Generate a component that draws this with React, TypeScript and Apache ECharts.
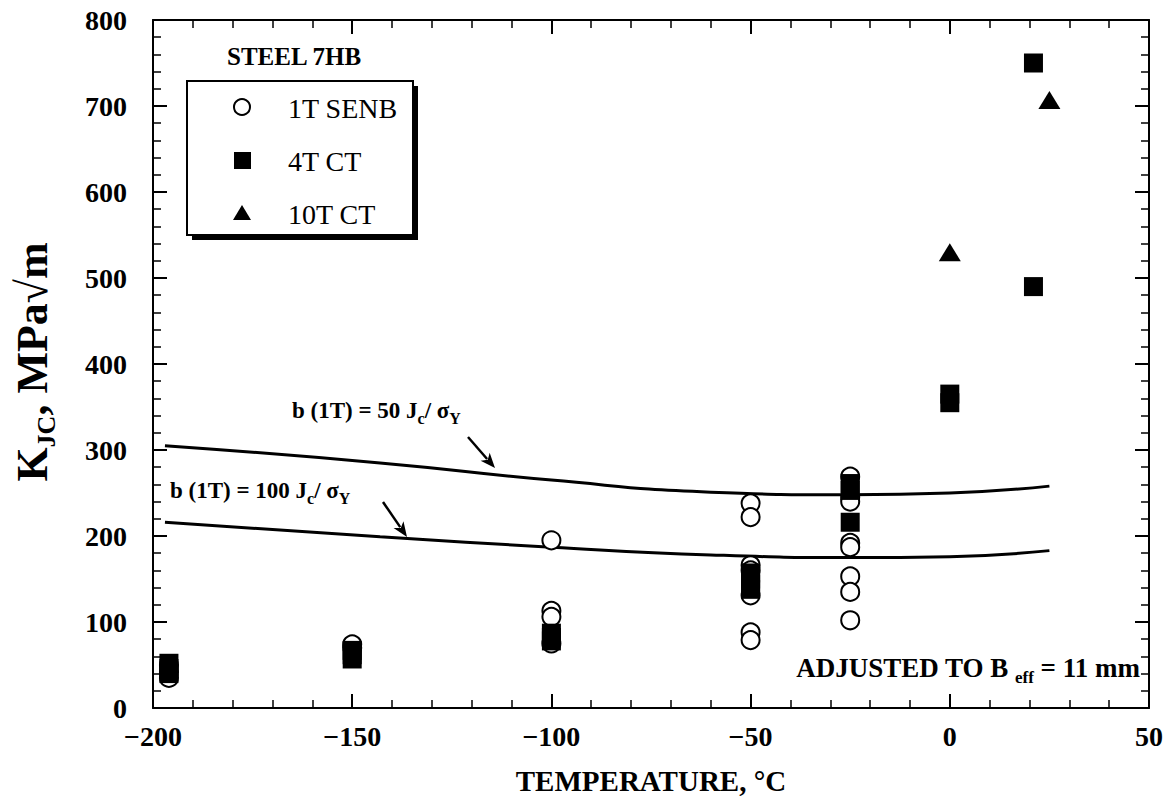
import React, { useEffect, useRef } from "react";
import * as echarts from "echarts";

// ---- data ----
const xTicks = { min: -200, max: 50, interval: 50 };
const yTicks = { min: 0, max: 800, interval: 100 };

const senbPoints: [number, number][] = [
  [-196, 35], [-196, 42], [-196, 50],
  [-150, 70], [-150, 74],
  [-100, 195], [-100, 113], [-100, 106], [-100, 75],
  [-50, 238], [-50, 222], [-50, 166], [-50, 160], [-50, 131], [-50, 88], [-50, 79],
  [-25, 269], [-25, 245], [-25, 240], [-25, 192], [-25, 187], [-25, 153], [-25, 135], [-25, 102],
];
const ct4Points: [number, number][] = [
  [-196, 40], [-196, 46], [-196, 52],
  [-150, 57], [-150, 62], [-150, 67],
  [-100, 78], [-100, 82], [-100, 87],
  [-50, 138], [-50, 144], [-50, 150], [-50, 157],
  [-25, 253], [-25, 261], [-25, 216],
  [0, 355], [0, 365],
  [21, 750], [21, 490],
];
const ct10Points: [number, number][] = [
  [0, 530], [25, 707],
];
const curveTemps = [-197, -143, -100, -60, -25, 0, 25];
const curve50 = [305, 285, 265, 251, 248, 250, 258];
const curve100 = [216, 199, 187, 178, 175, 176, 183];

const FONT = '"Liberation Serif", "Times New Roman", serif';

function arrow(x1: number, y1: number, x2: number, y2: number) {
  const dx = x2 - x1, dy = y2 - y1;
  const len = Math.sqrt(dx * dx + dy * dy);
  const ux = dx / len, uy = dy / len;
  const hl = 15, hw = 6;
  const bx = x2 - ux * hl, by = y2 - uy * hl;
  const px = -uy, py = ux;
  return [
    { type: "line", shape: { x1, y1, x2: bx + ux * 3, y2: by + uy * 3 }, style: { stroke: "#000", lineWidth: 2.5 }, z: 100 },
    {
      type: "polygon",
      shape: { points: [[x2, y2], [bx + px * hw, by + py * hw], [bx + ux * 4, by + uy * 4], [bx - px * hw, by - py * hw]] },
      style: { fill: "#000" },
      z: 100,
    },
  ];
}

export default function App() {
  const ref = useRef<HTMLDivElement>(null);
  useEffect(() => {
    if (!ref.current) return;
    const chart = echarts.init(ref.current, null, { renderer: "svg" });
    const axisCommon = {
      type: "value",
      axisLine: { show: true, onZero: false, lineStyle: { color: "#000", width: 2 } },
      axisTick: { show: true, inside: true, length: 14, lineStyle: { color: "#000", width: 2 } },
      minorTick: { show: true, splitNumber: 5, length: 8, lineStyle: { color: "#000", width: 1.5 } },
      splitLine: { show: false },
    };
    const rich = {
      n: { fontFamily: FONT, fontWeight: "bold", fontSize: 23, lineHeight: 32, color: "#000" },
      s: { fontFamily: FONT, fontWeight: "bold", fontSize: 16, lineHeight: 16, verticalAlign: "bottom", color: "#000" },
    };
    const option: any = {
      animation: false,
      backgroundColor: "#fff",
      grid: { left: 153, right: 16, top: 20, bottom: 98 },
      xAxis: [
        {
          ...axisCommon,
          min: xTicks.min, max: xTicks.max, interval: xTicks.interval,
          position: "bottom",
          axisLabel: {
            show: true, margin: 14, color: "#000", fontFamily: FONT, fontWeight: "bold", fontSize: 28,
            formatter: (v: number) => (v < 0 ? "\u2212" + Math.abs(v) : String(v)),
          },
          name: "TEMPERATURE, \u00B0C",
          nameLocation: "middle",
          nameGap: 58,
          nameTextStyle: { color: "#000", fontFamily: FONT, fontWeight: "bold", fontSize: 29 },
        },
        {
          ...axisCommon,
          min: xTicks.min, max: xTicks.max, interval: xTicks.interval,
          position: "top",
          axisLabel: { show: false },
        },
      ],
      yAxis: [
        {
          ...axisCommon,
          min: yTicks.min, max: yTicks.max, interval: yTicks.interval,
          position: "left",
          axisLabel: { show: true, margin: 26, color: "#000", fontFamily: FONT, fontWeight: "bold", fontSize: 28 },
        },
        {
          ...axisCommon,
          min: yTicks.min, max: yTicks.max, interval: yTicks.interval,
          position: "right",
          axisLabel: { show: false },
        },
      ],
      series: [
        {
          type: "line", name: "b50", smooth: true, symbol: "none",
          data: curveTemps.map((t, i) => [t, curve50[i]]),
          lineStyle: { color: "#000", width: 3 }, z: 2,
        },
        {
          type: "line", name: "b100", smooth: true, symbol: "none",
          data: curveTemps.map((t, i) => [t, curve100[i]]),
          lineStyle: { color: "#000", width: 3 }, z: 2,
        },
        {
          type: "scatter", name: "1T SENB", symbol: "circle", symbolSize: 18,
          data: senbPoints,
          itemStyle: { color: "#fff", borderColor: "#000", borderWidth: 2, opacity: 1 }, z: 3,
        },
        {
          type: "scatter", name: "4T CT", symbol: "rect", symbolSize: 19,
          data: ct4Points,
          itemStyle: { color: "#000", opacity: 1 }, z: 4,
        },
        {
          type: "scatter", name: "10T CT", symbol: "triangle", symbolSize: [22, 18],
          data: ct10Points,
          itemStyle: { color: "#000", opacity: 1 }, z: 4,
        },
      ],
      graphic: [
        // y-axis title
        {
          type: "text", x: 32, y: 362, rotation: Math.PI / 2, z: 100,
          style: {
            text: "{b|K}{sub|JC}{b|, MPa\u221Am}",
            align: "center", verticalAlign: "middle",
            rich: {
              b: { fontFamily: FONT, fontWeight: "bold", fontSize: 44, lineHeight: 54, color: "#000" },
              sub: { fontFamily: FONT, fontWeight: "bold", fontSize: 26, lineHeight: 26, verticalAlign: "bottom", color: "#000" },
            },
          },
        },
        // legend
        {
          type: "text", x: 227, y: 56, z: 100,
          style: { text: "STEEL 7HB", fontFamily: FONT, fontWeight: "bold", fontSize: 25, fill: "#000", verticalAlign: "middle" },
        },
        { type: "rect", shape: { x: 192, y: 86, width: 226, height: 154 }, style: { fill: "#000" }, z: 90 },
        { type: "rect", shape: { x: 187, y: 81, width: 226, height: 154 }, style: { fill: "#fff", stroke: "#000", lineWidth: 2 }, z: 91 },
        { type: "circle", shape: { cx: 242, cy: 107, r: 8 }, style: { fill: "#fff", stroke: "#000", lineWidth: 2 }, z: 92 },
        { type: "rect", shape: { x: 234, y: 152, width: 17, height: 17 }, style: { fill: "#000" }, z: 92 },
        { type: "polygon", shape: { points: [[242, 205], [251, 220], [233, 220]] }, style: { fill: "#000" }, z: 92 },
        { type: "text", x: 288, y: 108, z: 92, style: { text: "1T SENB", fontFamily: FONT, fontSize: 28, fill: "#000", verticalAlign: "middle" } },
        { type: "text", x: 288, y: 161, z: 92, style: { text: "4T CT", fontFamily: FONT, fontSize: 28, fill: "#000", verticalAlign: "middle" } },
        { type: "text", x: 288, y: 214, z: 92, style: { text: "10T CT", fontFamily: FONT, fontSize: 28, fill: "#000", verticalAlign: "middle" } },
        // curve labels
        {
          type: "text", x: 292, y: 410, z: 100,
          style: { text: "{n|b (1T) = 50 J}{s|c}{n|/ \u03C3}{s|Y}", verticalAlign: "middle", rich },
        },
        {
          type: "text", x: 170, y: 490, z: 100,
          style: { text: "{n|b (1T) = 100 J}{s|c}{n|/ \u03C3}{s|Y}", verticalAlign: "middle", rich },
        },
        ...arrow(468, 437, 495, 468),
        ...arrow(383, 502, 407, 537),
        // adjusted note
        {
          type: "text", x: 1140, y: 668, z: 100,
          style: {
            text: "{n|ADJUSTED TO B }{s|eff}{n| = 11 mm}",
            align: "right", verticalAlign: "middle",
            rich: {
              n: { fontFamily: FONT, fontWeight: "bold", fontSize: 27, lineHeight: 36, color: "#000" },
              s: { fontFamily: FONT, fontWeight: "bold", fontSize: 17, lineHeight: 17, verticalAlign: "bottom", color: "#000" },
            },
          },
        },
      ],
    };
    chart.setOption(option);
    return () => chart.dispose();
  }, []);
  return <div ref={ref} style={{ position: "fixed", left: 0, top: 0, width: 1166, height: 806 }} />;
}
